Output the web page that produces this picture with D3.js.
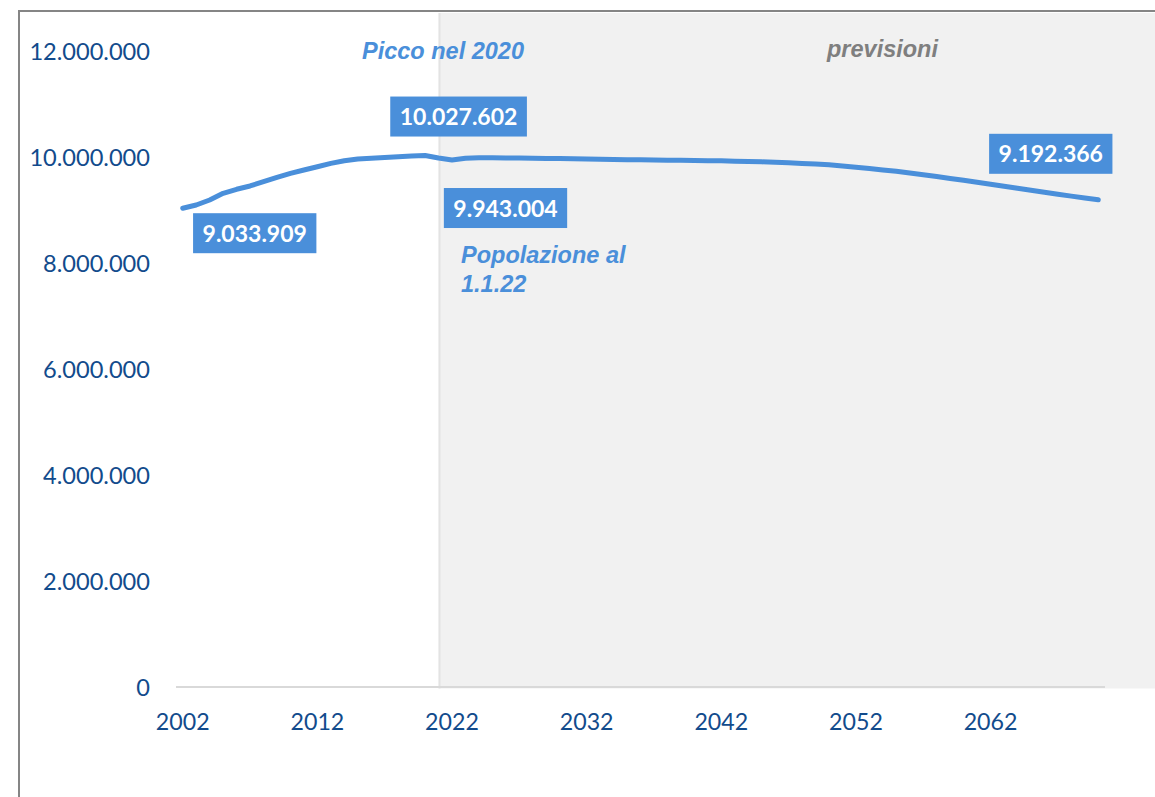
<!DOCTYPE html>
<html>
<head>
<meta charset="utf-8">
<script src="https://cdn.jsdelivr.net/npm/d3@7"></script>
<style>
  html, body { margin: 0; padding: 0; background: #ffffff; }
  svg { display: block; }
</style>
</head>
<body>
<svg id="chart" width="1155" height="797"></svg>
<script>
// ---------------- DATA ----------------
const years = [
  2002, 2003, 2004, 2005, 2006, 2007, 2008, 2009, 2010, 2011,
  2012, 2013, 2014, 2015, 2016, 2017, 2018, 2019, 2020, 2021,
  2022, 2023, 2024, 2025, 2026, 2027, 2028, 2029, 2030, 2031,
  2032, 2033, 2034, 2035, 2036, 2037, 2038, 2039, 2040, 2041,
  2042, 2043, 2044, 2045, 2046, 2047, 2048, 2049, 2050, 2051,
  2052, 2053, 2054, 2055, 2056, 2057, 2058, 2059, 2060, 2061,
  2062, 2063, 2064, 2065, 2066, 2067, 2068, 2069, 2070
];
const population = [
  9033909, 9094000, 9189000, 9315000, 9391000, 9453000, 9534000, 9617000, 9692000, 9755000,
  9817000, 9880000, 9930000, 9962000, 9975000, 9990000, 10005000, 10018000, 10027602, 9981000,
  9943004, 9975000, 9985000, 9985000, 9983000, 9980000, 9977000, 9973000, 9970000, 9966000,
  9962000, 9958000, 9954000, 9950000, 9947000, 9944000, 9941000, 9938000, 9935000, 9931000,
  9927000, 9922000, 9916000, 9909000, 9900000, 9890000, 9879000, 9867000, 9853000, 9830000,
  9806000, 9781000, 9756000, 9730000, 9698000, 9665000, 9631000, 9596000, 9560000, 9523000,
  9485000, 9447000, 9409000, 9371000, 9335000, 9299000, 9262000, 9227000, 9192366
];
const yTicks = [0, 2000000, 4000000, 6000000, 8000000, 10000000, 12000000];
const xTickLabels = [2002, 2012, 2022, 2032, 2042, 2052, 2062];
const labelledYears = [2002, 2020, 2022, 2070];
const forecastStart = 2022;
const annotationPeak = "Picco nel 2020";
const annotationForecast = "previsioni";
const annotationCurrent = ["Popolazione al", "1.1.22"];

// ---------------- LAYOUT / STYLE ----------------
const W = 1155, H = 797;
const plot = { left: 176, right: 1105, top: 51, bottom: 687 };
const blue = "#4a8fda";
const axisText = "#124b8c";
const labelOffsets = { 2002: [72, 25], 2020: [33.5, -39], 2022: [53.5, 48], 2070: [-47.5, -46] };

const it = d3.formatLocale({ decimal: ",", thousands: ".", grouping: [3], currency: ["€", ""] });
const fmt = it.format(",d");

const svg = d3.select("#chart");

// frame
svg.append("rect")
  .attr("x", 19).attr("y", 11)
  .attr("width", 1400).attr("height", 1000)
  .attr("fill", "#ffffff")
  .attr("stroke", "#858585").attr("stroke-width", 2);

// scales
const x = d3.scaleBand().domain(years).range([plot.left, plot.right]).padding(0);
const y = d3.scaleLinear().domain([0, 12000000]).range([plot.bottom, plot.top]);
const cx = d => x(d) + x.bandwidth() / 2;

// forecast shaded area
const shadeX = x(forecastStart) - x.bandwidth() / 2;
svg.append("rect")
  .attr("x", shadeX).attr("y", 13)
  .attr("width", W - shadeX).attr("height", plot.bottom + 1.5 - 13)
  .attr("fill", "#f1f1f1");
svg.append("line")
  .attr("x1", shadeX + 1).attr("x2", shadeX + 1)
  .attr("y1", 13).attr("y2", plot.bottom + 1.5)
  .attr("stroke", "#e3e3e3").attr("stroke-width", 2);

// x axis line
svg.append("line")
  .attr("x1", plot.left).attr("x2", plot.right)
  .attr("y1", plot.bottom).attr("y2", plot.bottom)
  .attr("stroke", "#d9d9d9").attr("stroke-width", 2);

// y axis
const yAxis = d3.axisLeft(y).tickValues(yTicks).tickSize(0).tickPadding(0).tickFormat(fmt);
const gy = svg.append("g").attr("transform", "translate(150,0)").call(yAxis);
gy.select(".domain").remove();
gy.selectAll("text")
  .attr("font-family", "Lato, 'Open Sans', sans-serif")
  .attr("font-size", 23.6)
  .attr("fill", axisText)
  .attr("dy", "0.35em");

// x axis labels
const xAxis = d3.axisBottom(x).tickValues(xTickLabels).tickSize(0).tickPadding(0);
const gx = svg.append("g").attr("transform", `translate(0,${plot.bottom})`).call(xAxis);
gx.select(".domain").remove();
gx.selectAll("text")
  .attr("font-family", "Lato, 'Open Sans', sans-serif")
  .attr("font-size", 23.2)
  .attr("fill", axisText)
  .attr("y", 35)
  .attr("dy", "0.35em");

// line
const line = d3.line()
  .x((d, i) => cx(years[i]))
  .y(d => y(d));
svg.append("path")
  .datum(population)
  .attr("d", line)
  .attr("fill", "none")
  .attr("stroke", blue)
  .attr("stroke-width", 5)
  .attr("stroke-linecap", "round")
  .attr("stroke-linejoin", "round");

// data labels
labelledYears.forEach(yr => {
  const i = years.indexOf(yr);
  const v = population[i];
  const [dx, dy] = labelOffsets[yr];
  const px = cx(yr) + dx, py = y(v) + dy;
  const g = svg.append("g");
  const t = g.append("text")
    .attr("x", px).attr("y", py + 8.5)
    .attr("text-anchor", "middle")
    .attr("font-family", "Lato, 'Open Sans', sans-serif")
    .attr("font-weight", "bold")
    .attr("font-size", 23)
    .attr("fill", "#ffffff")
    .text(fmt(v));
  const bb = t.node().getBBox();
  g.insert("rect", "text")
    .attr("x", bb.x - 9.5).attr("y", py - 20)
    .attr("width", bb.width + 19).attr("height", 40)
    .attr("fill", blue);
});

// annotations
const annFont = "'Liberation Sans', Arial, sans-serif";
svg.append("text")
  .attr("x", 362).attr("y", 59)
  .attr("font-family", annFont).attr("font-weight", "bold").attr("font-style", "italic")
  .attr("font-size", 23.5).attr("fill", blue)
  .text(annotationPeak);
svg.append("text")
  .attr("x", 827).attr("y", 57)
  .attr("font-family", annFont).attr("font-weight", "bold").attr("font-style", "italic")
  .attr("font-size", 23.5).attr("fill", "#7f7f7f")
  .text(annotationForecast);
annotationCurrent.forEach((s, k) => {
  svg.append("text")
    .attr("x", 461).attr("y", 263 + k * 28.5)
    .attr("font-family", annFont).attr("font-weight", "bold").attr("font-style", "italic")
    .attr("font-size", 23.5).attr("fill", blue)
    .text(s);
});
</script>
</body>
</html>
